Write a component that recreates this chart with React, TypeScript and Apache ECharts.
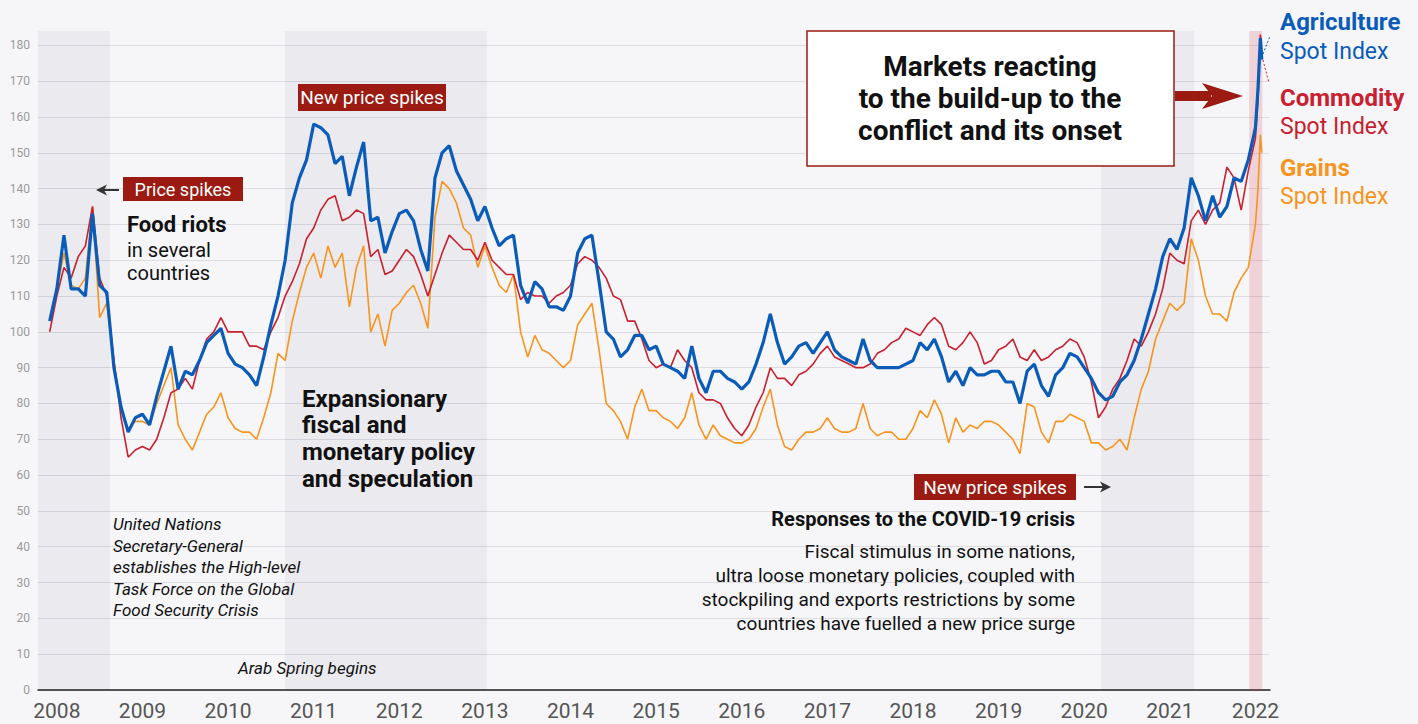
import React, { useEffect, useRef } from "react";
import * as echarts from "echarts";

// ---------- DATA ----------
// monthly samples from 2007-12 to 2021-12, then finer samples in January 2022
const lateDates = ["2022-01-01", "2022-01-12", "2022-01-22", "2022-01-28"];

const agriculture = [
  103,
  112, 127, 112, 112, 110, 133, 113, 111, 90, 79, 72, 76, // 2008
  77, 74, 82, 89, 96, 84, 89, 88, 92, 97, 99, 101, // 2009
  94, 91, 90, 88, 85, 93, 102, 110, 120, 136, 143, 148, // 2010
  158, 157, 155, 147, 149, 138, 146, 153, 131, 132, 122, 128, // 2011
  133, 134, 131, 123, 117, 143, 150, 152, 145, 141, 137, 131, // 2012
  135, 129, 124, 126, 127, 113, 108, 114, 112, 107, 107, 106, // 2013
  110, 122, 126, 127, 114, 100, 98, 93, 95, 99, 99, 95, // 2014
  96, 91, 90, 89, 87, 96, 87, 83, 89, 89, 87, 86, // 2015
  84, 86, 91, 97, 105, 97, 91, 93, 96, 97, 94, 97, // 2016
  100, 95, 93, 92, 91, 98, 92, 90, 90, 90, 90, 91, // 2017
  92, 97, 95, 98, 93, 86, 89, 85, 90, 88, 88, 89, // 2018
  89, 86, 86, 80, 89, 91, 85, 82, 88, 90, 94, 93, // 2019
  90, 87, 83, 81, 82, 86, 88, 92, 98, 105, 112, 121, // 2020
  126, 123, 129, 143, 138, 131, 138, 132, 135, 143, 142, 148, // 2021
  157, 168, 182, 176, // 2022
];

const commodity = [
  100,
  110, 118, 115, 121, 124, 135, 115, 110, 92, 76, 65, 67, // 2008
  68, 67, 70, 76, 83, 84, 87, 84, 92, 98, 100, 104, // 2009
  100, 100, 100, 96, 96, 95, 100, 104, 110, 114, 119, 126, // 2010
  129, 134, 137, 138, 131, 132, 134, 133, 121, 123, 116, 117, // 2011
  120, 123, 121, 116, 110, 116, 122, 127, 125, 123, 123, 120, // 2012
  125, 120, 118, 116, 116, 109, 111, 110, 110, 108, 110, 111, // 2013
  113, 119, 121, 120, 118, 115, 110, 109, 103, 103, 98, 92, // 2014
  90, 91, 90, 95, 92, 90, 83, 81, 81, 80, 76, 73, // 2015
  71, 74, 79, 83, 90, 87, 87, 85, 88, 89, 91, 94, // 2016
  96, 93, 92, 91, 90, 90, 91, 94, 95, 97, 98, 101, // 2017
  100, 99, 102, 104, 102, 96, 95, 97, 100, 97, 91, 92, // 2018
  95, 96, 98, 93, 92, 95, 92, 93, 95, 96, 98, 97, // 2019
  93, 86, 76, 79, 84, 87, 92, 98, 96, 100, 105, 112, // 2020
  122, 120, 119, 131, 134, 130, 134, 136, 146, 143, 134, 145, // 2021
  154, 165, 183, 178, // 2022
];

const grains = [
  104,
  112, 122, 113, 112, 115, 135, 104, 108, 92, 78, 73, 75, // 2008
  75, 74, 80, 85, 90, 74, 70, 67, 72, 77, 79, 83, // 2009
  76, 73, 72, 72, 70, 76, 83, 94, 92, 103, 111, 118, // 2010
  122, 115, 124, 118, 122, 107, 118, 124, 100, 105, 96, 106, // 2011
  108, 111, 113, 108, 101, 132, 142, 140, 136, 129, 127, 118, // 2012
  124, 118, 113, 111, 116, 100, 93, 99, 95, 94, 92, 90, // 2013
  92, 102, 105, 108, 95, 80, 78, 75, 70, 79, 84, 78, // 2014
  78, 76, 75, 73, 76, 83, 74, 70, 74, 71, 70, 69, // 2015
  69, 70, 73, 79, 84, 74, 68, 67, 70, 72, 72, 73, // 2016
  76, 73, 72, 72, 73, 80, 73, 71, 72, 72, 70, 70, // 2017
  73, 78, 76, 81, 77, 69, 76, 72, 74, 73, 75, 75, // 2018
  74, 72, 70, 66, 80, 79, 72, 69, 75, 75, 77, 76, // 2019
  75, 69, 69, 67, 68, 70, 67, 76, 84, 89, 98, 103, // 2020
  108, 106, 108, 126, 120, 110, 105, 105, 103, 111, 115, 118, // 2021
  130, 140, 155, 150, // 2022
];

const yearLabels = [2008, 2009, 2010, 2011, 2012, 2013, 2014, 2015, 2016, 2017, 2018, 2019, 2020, 2021, 2022];
const yTicks = [0, 10, 20, 30, 40, 50, 60, 70, 80, 90, 100, 110, 120, 130, 140, 150, 160, 170, 180];
const greyBands = [
  [2007.78, 2008.62],
  [2010.665, 2013.025],
  [2020.198, 2021.285],
];
const conflictBand = [2021.927, 2022.08];

// ---------- helpers ----------
function buildDates(): string[] {
  const out: string[] = ["2007-12-01"];
  for (let y = 2008; y <= 2021; y++) {
    for (let m = 1; m <= 12; m++) out.push(`${y}-${String(m).padStart(2, "0")}-01`);
  }
  return out.concat(lateDates);
}
function toYear(s: string): number {
  const [y, m, d] = s.split("-").map(Number);
  return y + (m - 1) / 12 + (d - 1) / 365;
}

const BLUE = "#0b5cb8";
const RED = "#c8202e";
const ORANGE = "#f7941d";
const DARKRED = "#9b1b12";
const FONT = "Roboto";

export default function App() {
  const ref = useRef<HTMLDivElement>(null);

  useEffect(() => {
    document.body.style.margin = "0";
    if (!ref.current) return;
    const chart = echarts.init(ref.current, undefined, { renderer: "svg" });
    const xs = buildDates().map(toYear);
    const pair = (vals: number[]) => xs.map((x, i) => [x, vals[i]]);

    const txt = (x: number, y: number, text: string, font: string, fill: string, align = "left") => ({
      type: "text",
      x,
      y,
      z: 20,
      style: { text, font, fill, textAlign: align, textVerticalAlign: "middle" },
    });

    const graphic: any[] = [
      // Price spikes (2008)
      { type: "rect", z: 15, shape: { x: 123, y: 177, width: 120, height: 24 }, style: { fill: DARKRED } },
      txt(183, 189.5, "Price spikes", `18px ${FONT}`, "#fff", "center"),
      { type: "line", z: 15, shape: { x1: 119, y1: 190, x2: 103, y2: 190 }, style: { stroke: "#333", lineWidth: 2 } },
      { type: "polygon", z: 15, shape: { points: [[96, 190], [107, 184.5], [104, 190], [107, 195.5]] }, style: { fill: "#333" } },
      txt(127, 224, "Food riots", `bold 22px ${FONT}`, "#111"),
      txt(127, 250, "in several", `20px ${FONT}`, "#111"),
      txt(127, 273, "countries", `20px ${FONT}`, "#111"),

      // New price spikes (2011)
      { type: "rect", z: 15, shape: { x: 298, y: 84, width: 148, height: 27 }, style: { fill: DARKRED } },
      txt(372, 97.5, "New price spikes", `19px ${FONT}`, "#fff", "center"),
      txt(302, 399, "Expansionary", `bold 24px ${FONT}`, "#111"),
      txt(302, 425, "fiscal and", `bold 24px ${FONT}`, "#111"),
      txt(302, 452, "monetary policy", `bold 24px ${FONT}`, "#111"),
      txt(302, 479, "and speculation", `bold 24px ${FONT}`, "#111"),

      // UN task force
      txt(113, 524, "United Nations", `italic 17px ${FONT}`, "#111"),
      txt(113, 546, "Secretary-General", `italic 17px ${FONT}`, "#111"),
      txt(113, 567, "establishes the High-level", `italic 17px ${FONT}`, "#111"),
      txt(113, 589, "Task Force on the Global", `italic 17px ${FONT}`, "#111"),
      txt(113, 610, "Food Security Crisis", `italic 17px ${FONT}`, "#111"),
      txt(238, 668, "Arab Spring begins", `italic 17px ${FONT}`, "#111"),

      // COVID
      { type: "rect", z: 15, shape: { x: 914, y: 474, width: 162, height: 26 }, style: { fill: DARKRED } },
      txt(995, 487.5, "New price spikes", `19px ${FONT}`, "#fff", "center"),
      { type: "line", z: 15, shape: { x1: 1084, y1: 487, x2: 1104, y2: 487 }, style: { stroke: "#333", lineWidth: 2 } },
      { type: "polygon", z: 15, shape: { points: [[1111, 487], [1100, 481.5], [1103, 487], [1100, 492.5]] }, style: { fill: "#333" } },
      txt(1075, 519, "Responses to the COVID-19 crisis", `bold 20px ${FONT}`, "#111", "right"),
      txt(1075, 551, "Fiscal stimulus in some nations,", `19px ${FONT}`, "#111", "right"),
      txt(1075, 575, "ultra loose monetary policies, coupled with", `19px ${FONT}`, "#111", "right"),
      txt(1075, 599, "stockpiling and exports restrictions by some", `19px ${FONT}`, "#111", "right"),
      txt(1075, 623, "countries have fuelled a new price surge", `19px ${FONT}`, "#111", "right"),

      // Markets box + arrow
      { type: "rect", z: 15, shape: { x: 807, y: 31, width: 367, height: 135 }, style: { fill: "#fff", stroke: DARKRED, lineWidth: 1.5 } },
      txt(990, 66, "Markets reacting", `bold 28px ${FONT}`, "#111", "center"),
      txt(990, 98, "to the build-up to the", `bold 28px ${FONT}`, "#111", "center"),
      txt(990, 130, "conflict and its onset", `bold 28px ${FONT}`, "#111", "center"),
      { type: "rect", z: 15, shape: { x: 1175, y: 91, width: 36, height: 10 }, style: { fill: DARKRED } },
      { type: "polygon", z: 15, shape: { points: [[1202, 83], [1243, 96], [1202, 109], [1212, 96]] }, style: { fill: DARKRED } },

      // end connectors
      { type: "line", z: 15, shape: { x1: 1263, y1: 54, x2: 1270, y2: 36 }, style: { stroke: BLUE, lineWidth: 1, lineDash: [2, 2] } },
      { type: "line", z: 15, shape: { x1: 1263, y1: 60, x2: 1269, y2: 83 }, style: { stroke: RED, lineWidth: 1, lineDash: [2, 2] } },

      // legend
      txt(1280, 22, "Agriculture", `bold 24px ${FONT}`, BLUE),
      txt(1280, 51, "Spot Index", `23px ${FONT}`, BLUE),
      txt(1280, 98, "Commodity", `bold 24px ${FONT}`, RED),
      txt(1280, 126, "Spot Index", `23px ${FONT}`, RED),
      txt(1280, 168, "Grains", `bold 24px ${FONT}`, ORANGE),
      txt(1280, 196, "Spot Index", `23px ${FONT}`, ORANGE),
    ];

    const option: any = {
      animation: false,
      backgroundColor: "#f6f6f9",
      textStyle: { fontFamily: FONT },
      grid: { left: 38, right: 148, top: 31, bottom: 34 },
      xAxis: {
        type: "value",
        min: 2007.78,
        max: 2022.17,
        axisLine: { show: true, onZero: true, lineStyle: { color: "#222", width: 1.5 } },
        axisTick: { show: false },
        splitLine: { show: false },
        axisLabel: {
          customValues: yearLabels,
          formatter: (v: number) => String(Math.round(v)),
          color: "#555",
          fontSize: 21,
          fontFamily: FONT,
          margin: 10,
        },
      },
      yAxis: {
        type: "value",
        min: 0,
        max: 184,
        interval: 10,
        axisLine: { show: false },
        axisTick: { show: false },
        splitLine: { show: true, showMaxLine: false, lineStyle: { color: "#dcdce2", width: 1 } },
        axisLabel: {
          customValues: yTicks,
          color: "#9a9a9a",
          fontSize: 12,
          fontFamily: FONT,
          margin: 8,
        },
      },
      series: [
        {
          name: "Grains Spot Index",
          type: "line",
          data: pair(grains),
          showSymbol: false,
          symbol: "none",
          lineStyle: { color: ORANGE, width: 1.6 },
          itemStyle: { color: ORANGE },
          z: 3,
          markArea: {
            silent: true,
            itemStyle: { color: "rgba(40,40,80,0.055)" },
            data: [
              ...greyBands.map((b) => [{ xAxis: b[0] }, { xAxis: b[1] }]),
              [
                { xAxis: conflictBand[0], itemStyle: { color: "rgba(215,70,80,0.2)" } },
                { xAxis: conflictBand[1] },
              ],
            ],
          },
        },
        {
          name: "Commodity Spot Index",
          type: "line",
          data: pair(commodity),
          showSymbol: false,
          symbol: "none",
          lineStyle: { color: RED, width: 1.6 },
          itemStyle: { color: RED },
          z: 4,
        },
        {
          name: "Agriculture Spot Index",
          type: "line",
          data: pair(agriculture),
          showSymbol: false,
          symbol: "none",
          lineStyle: { color: BLUE, width: 3.2 },
          itemStyle: { color: BLUE },
          z: 5,
        },
      ],
      graphic,
    };

    chart.setOption(option);
    return () => chart.dispose();
  }, []);

  return <div ref={ref} style={{ width: 1418, height: 724 }} />;
}
